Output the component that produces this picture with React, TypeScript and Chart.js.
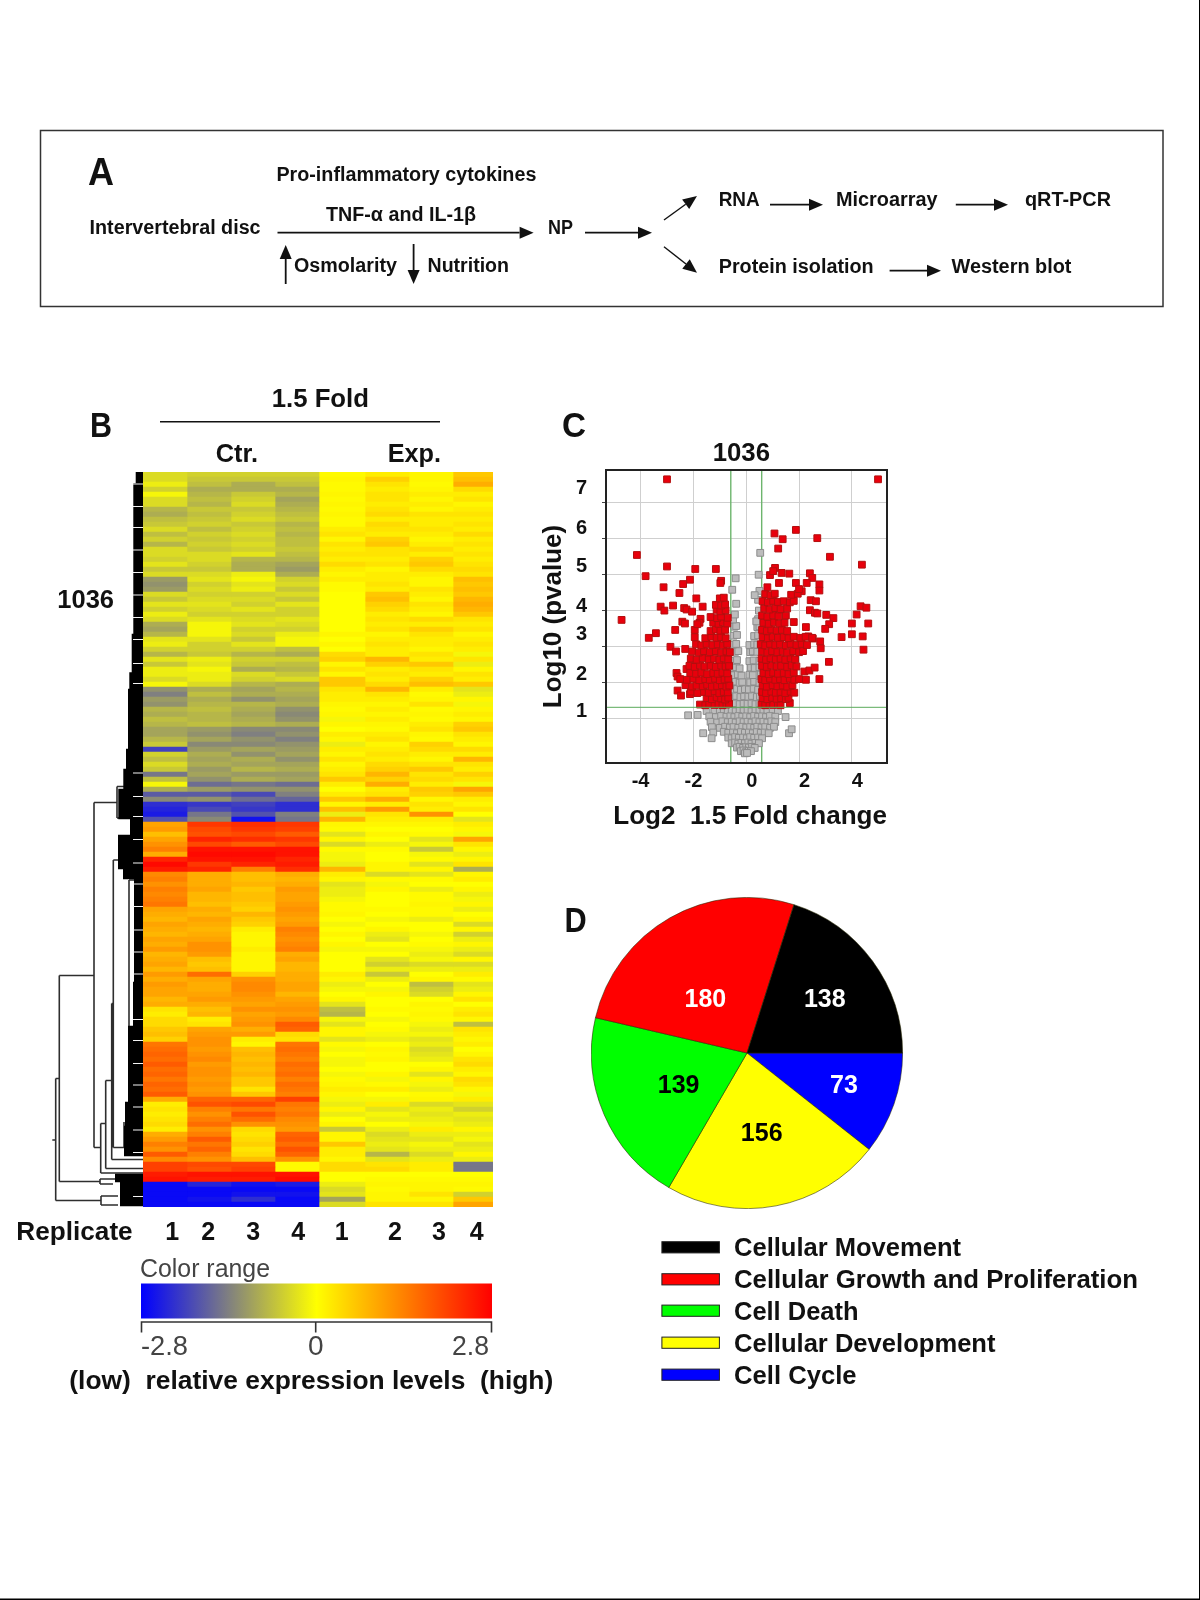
import React, { useEffect, useRef } from "react";
import { Chart, registerables } from "chart.js";
Chart.register(...registerables);

const FONT = '"Liberation Sans", Arial, sans-serif';

/* ---------- B: heat map, 147 row groups top to bottom, log-ratio values ---------- */
const replicateLabels = ["1", "2", "3", "4", "1", "2", "3", "4"];
const columnWeights = [44, 44, 44, 44, 46, 44, 44, 40];
const ctr1 = [
  -.4,-.4,-.2,-.5,-.1,-.4,-.4,-.8,-.9,-.7,-.6,-.4,
  -.7,-.5,-.8,-.4,-.4,-.5,-.3,-.6,-.4,-1.1,-1.2,-1.1,
  -.4,-.6,-.3,-.5,-.2,-.4,-.9,-1.0,-.8,-.3,-.2,-.5,
  -.8,-.3,-.6,-.2,-.2,-.4,-.1,-1.2,-1.4,-1.1,-1.2,-.8,
  -.9,-.7,-.8,-1.0,-1.0,-.8,-.6,-2.1,-.5,-.7,-.4,-.6,
  -1.5,-.7,-.1,-.9,-1.8,-1.3,-2.3,-2.4,-2.5,-1.9,1.0,1.1,
  .7,1.0,1.2,1.4,.9,2.4,2.7,2.5,1.3,1.4,1.2,1.4,
  1.3,1.4,1.5,1.0,.9,.8,1.0,.9,.8,1.0,.9,1.1,.8,
  .9,1.0,.8,1.1,.9,1.1,1.0,1.0,.8,.9,.3,.2,.4,
  .4,.6,.7,.5,1.5,1.6,1.7,1.6,1.8,1.6,1.7,1.5,
  1.7,1.6,1.8,.9,.2,.3,.2,.3,.4,.2,.9,1.1,1.4,
  1.2,1.8,1.3,2.1,2.1,2.5,2.6,-2.7,-2.7,-2.7,-2.7,-2.7,
];
const ctr2 = [
  -.5,-.6,-.7,-.9,-.8,-.7,-.8,-.6,-.7,-.6,-.5,-.7,
  -.5,-.6,-.5,-.6,-.4,-.4,-.5,-.6,-.4,-.3,-.5,-.4,
  -.5,-.4,-.3,-.4,-.5,-.3,-.1,-.1,-.1,-.3,-.5,-.5,
  -.6,-.2,-.3,-.1,-.2,-.2,-.4,-.9,-.7,-.9,-.8,-.7,
  -.8,-.8,-.7,-1.1,-1.2,-1.0,-1.3,-1.1,-.9,-1.0,-.9,-1.1,
  -1.0,-1.2,-1.6,-1.1,-1.8,-1.2,-2.2,-2.0,-1.5,-1.3,2.2,2.0,
  1.9,2.4,2.0,2.6,2.7,2.6,2.2,2.4,.9,.9,.9,1.0,
  .8,.8,.7,.9,.8,1.0,.9,.8,.9,1.0,1.2,1.2,1.1,
  .7,.6,.7,1.6,1.0,.9,.9,1.0,1.1,.9,.7,.8,.2,
  .3,1.0,1.1,1.2,1.2,1.1,1.2,1.3,1.1,1.2,1.2,1.1,
  1.2,1.1,1.2,1.7,1.9,1.4,1.2,1.4,1.6,1.2,1.4,1.8,1.5,
  1.7,1.4,1.2,2.0,1.9,2.6,2.5,-2.4,-2.7,-2.7,-2.6,-2.7,
];
const ctr3 = [
  -.5,-.6,-.9,-.9,-.6,-.5,-.4,-.6,-.5,-.4,-.6,-.5,
  -.4,-.5,-.4,-.5,-.3,-.8,-.9,-.9,-.2,-.1,-.3,-.2,
  -.5,-.4,-.5,-.3,-.5,-.4,-.3,-.5,-.4,-.6,-.3,-.5,
  -.8,-.5,-.6,-.9,-.4,-.5,-.8,-1.0,-.9,-1.2,-.8,-.9,
  -1.0,-.9,-.8,-1.3,-1.4,-1.2,-1.3,-1.0,-1.2,-.9,-1.0,-.8,
  -1.1,-.9,-1.5,-1.2,-2.0,-1.6,-2.1,-2.2,-1.9,-2.6,2.3,2.2,
  2.0,2.3,1.8,2.6,2.7,2.6,2.4,1.4,.7,.7,.8,.6,
  .7,.7,.6,.5,.8,.6,.5,.2,.1,.1,.1,.2,.1,
  .1,.1,.1,.5,1.2,1.3,1.3,1.2,1.1,1.0,1.2,1.0,1.1,
  1.2,.9,1.1,.2,.1,.7,.8,.7,.8,.7,.8,.6,
  .6,.3,.6,1.7,2.0,1.5,1.9,1.6,1.2,.4,.3,.4,.5,
  .3,.4,.7,2.0,2.1,2.6,2.5,-2.6,-2.7,-2.6,-2.3,-2.7,
];
const ctr4 = [
  -.5,-.6,-.7,-.9,-.8,-1.0,-.9,-.8,-.7,-.6,-.8,-.7,
  -.8,-.7,-.7,-.6,-.7,-.8,-1.0,-1.1,-.9,-.5,-.4,-.6,
  -.4,-.6,-.3,-.5,-.5,-.3,-.4,-.5,-.2,-.1,-.1,-.7,
  -.9,-.5,-.7,-.8,-.6,-.4,-.9,-.8,-.9,-1.0,-.9,-1.2,
  -1.3,-1.2,-.9,-1.3,-1.2,-1.4,-1.2,-1.1,-1.0,-1.2,-1.0,-.9,
  -1.1,-1.0,-1.6,-1.2,-1.4,-1.7,-2.3,-2.3,-1.4,-1.5,2.2,2.1,
  1.8,2.2,2.0,2.6,2.6,2.4,2.5,2.3,.9,.8,.9,1.1,
  1.0,1.0,1.1,1.2,1.1,1.0,1.1,1.4,1.3,1.2,1.3,1.4,.9,
  1.0,.8,.8,.9,.9,1.0,1.0,.8,1.0,1.1,1.2,1.1,1.3,
  1.8,1.7,.4,.3,1.5,1.6,1.5,1.4,1.6,1.5,1.6,1.4,
  1.6,1.5,1.4,2.1,1.5,1.4,1.5,1.3,1.2,1.1,1.7,1.8,1.6,
  1.9,1.7,1.2,.05,.05,2.6,2.7,-2.5,-2.7,-2.6,-2.7,-2.7,
];
const exp1 = [
  .05,.1,.05,.05,.1,.05,.1,.05,.1,.05,.05,.2,
  .3,.1,.3,.2,.3,.2,.4,.2,.1,.2,.05,.05,
  0,0,0,0,0,0,0,0,.1,0,.1,0,
  .4,.5,.1,.3,.1,.6,.6,.3,.2,.2,.1,.05,
  .1,-.1,.1,0,.2,.1,-.2,.2,.1,.3,.1,.2,
  .3,.6,.2,0,.2,.6,.1,.7,-.2,.8,.1,.05,
  -.3,.1,-.4,.05,-.1,-.1,-.2,.8,.2,.1,-.3,-.2,
  -.2,-.1,.05,.05,.1,0,-.1,0,.1,0,.1,-.1,0,
  0,0,0,.2,.1,-.2,-.1,0,.1,-.3,-.7,-.8,-.1,
  -.3,.1,.1,-.3,.05,-.1,0,-.1,-.1,0,-.1,.05,
  .1,.2,.1,-.1,-.2,.1,-.2,0,.1,-.6,.1,.1,.6,
  .2,.2,.1,.4,.4,0,0,-.2,-.4,-.3,-1.0,-.4,
];
const exp2 = [
  .2,.5,.3,.2,.3,.3,.2,.3,.4,.2,.4,.3,
  .2,.5,.6,.3,.3,.2,.3,.1,.2,.2,.3,.2,
  .6,.7,.5,.4,.2,.3,.2,.3,.1,.2,.3,.2,
  .2,.8,.5,.2,.3,.2,.4,.8,.3,.2,.1,.2,
  .1,.2,.1,.05,.2,.3,.1,.2,.3,.2,.4,.5,
  .8,.5,.9,.2,.3,.9,.2,1.1,.3,.2,.1,0,
  .1,0,-.2,.05,0,0,.1,.1,-.4,.05,-.1,.1,
  0,0,0,.05,0,-.1,0,.1,-.2,-.3,0,-.1,0,
  -.3,-.5,-.2,-.6,-.2,0,-.1,.1,0,0,.05,0,-.1,
  0,.05,-.1,-.2,0,.1,.05,.1,0,0,.1,-.1,
  .05,.2,0,-.1,.2,-.3,-.1,-.2,0,-.2,-.4,-.3,-.2,
  -.3,-.8,-.3,.3,.4,0,.05,.1,.05,.1,.1,.3,
];
const exp3 = [
  .1,.1,.05,.1,.2,.1,.2,.1,.3,.2,.2,.3,
  .2,.1,.2,.4,.2,.5,.6,.4,.2,.1,.1,.3,
  .2,.1,.3,.2,.1,.4,.2,.5,.3,.2,.2,.1,
  .3,.2,.6,.3,.2,.5,.7,.2,.05,.1,.3,.05,
  .1,.05,.2,.3,.1,.05,.5,.4,.2,.1,.3,.6,
  .3,.4,.2,.6,.5,.1,.3,.2,1.2,.2,.1,0,
  .05,-.3,-.1,-.6,-.1,.05,-.3,.1,-.3,.05,0,-.2,
  .05,.05,.1,.05,.05,-.2,0,0,-.1,0,.05,-.1,-.2,
  -.1,-.4,-.2,0,.1,-.7,-.5,-.4,0,.1,.05,.1,.05,
  -.1,-.2,-.1,-.3,-.2,-.4,-.3,-.2,0,.1,-.3,.1,
  -.1,-.2,.05,.1,-.4,-.2,-.3,-.2,-.1,.2,-.2,-.3,-.1,
  -.2,-.4,-.2,.2,.2,0,.05,.1,.1,.3,.1,.3,
];
const exp4 = [
  .6,.7,.9,.4,.2,.3,.1,.2,.3,.2,.3,.2,
  .4,.2,.3,.2,.3,.2,.3,.4,.3,.7,.6,.7,
  .6,.8,.9,.8,.6,.3,.2,.3,.1,.2,.3,.2,
  -.1,.3,-.2,.1,.3,.2,.6,-.3,-.2,.1,-.1,.1,
  .2,.1,.5,.6,.3,.2,.1,.4,.2,.8,.3,.2,
  .5,.3,-.1,1.0,.6,.2,.1,.3,0,-.3,.2,.1,
  -.1,1.0,.3,.1,-.2,.1,.3,-.9,.1,.2,0,.1,
  -.2,-.1,.1,-.2,0,.1,-.4,.1,-.5,-.2,.1,-.2,-.4,
  .1,-.4,-.2,.2,.05,-.3,-.2,.1,.3,0,.2,.3,.1,
  -.7,.3,.2,.1,.2,0,.1,.3,.4,.2,.1,.4,
  .3,.1,-.1,.2,-.3,-.5,-.2,-.3,-.2,.1,-.2,-.1,-.3,
  -.2,.1,-.2,-1.5,-1.5,0,.05,.1,.05,-.5,.6,1.0,
];
const heatColumns = [ctr1, ctr2, ctr3, ctr4, exp1, exp2, exp3, exp4];

/* dendrogram: [distance, row, distance, row] */
const treeSegments = [
  [90.7,133.6,87.3,133.6],[87.3,121.3,87.3,145.7],[87.3,121.3,83.7,121.3],[87.3,145.7,42,145.7],
  [83.7,100.7,83.7,141.9],[83.7,100.7,49,100.7],[83.7,141.9,43,141.9],
  [49,66.1,49,135.1],[49,66.1,26,66.1],[49,135.1,42.3,135.1],
  [42.3,130.3,42.3,140.2],[42.3,130.3,37.3,130.3],[42.3,140.2,0,140.2],
  [37.3,121.7,37.3,139.3],[37.3,121.7,31.3,121.7],[37.3,139.3,0,139.3],
  [31.3,106.3,31.3,137.5],[31.3,106.3,29.7,106.3],[31.3,137.5,0,137.5],
  [29.7,77.6,29.7,135.1],[29.7,77.6,24,77.6],[29.7,135.1,19,135.1],
  [14,81.6,14,110.9],[14,81.6,8,81.6],
  [26,62.9,26,69.2],[26,62.9,18,62.9],[26,69.2,18,69.2],
  [43,141.4,43,142.4],[43,141.4,28,141.4],[43,142.4,30,142.4],
  [42,144.8,42,146.6],[42,144.8,25,144.8],[42,146.6,25,146.6],
  [19,130,19,135.1],
];
/* dense leaf bands: [row from, row to, depth] */
const leafBands = [
  [0,2.5,7.3],[2.5,32.6,9.7],[32.6,40.3,11.3],[40.3,43.6,13.7],[43.6,55.6,15],[55.6,59.6,17],
  [59.6,63.6,19.7],[63.6,69.6,24.7],[69.6,72.8,13],[72.8,79.6,25],[79.6,81.6,20],[81.6,102.2,9],
  [102.2,111,10],[111,126.2,15],[126.2,131,18],[131,137,19],[140.6,142.2,28],[142.2,147,23],
];
const leafGaps = [2.4,6.9,11.1,15.6,20.1,24.6,29.1,33.5,38.3,42.3,60.2,64.9,68.9,73.5,78.2,82.4,86.9,91.6,96,100.4,109.5,113.7,118.3,122.6,127,131.6,136.1,144.9];

/* ---------- C: volcano plot [log2 fold change, -log10 p] ---------- */
const xTickValues = [-4, -2, 0, 2, 4];
const yTickValues = [1, 2, 3, 4, 5, 6, 7];
const yLabelLift = [6.7, 8, 11.7, 4, 8, 10.7, 14.7];
const foldThreshold = 0.585;
const pThreshold = 1.3;
const redLeftSparse = [[-3,7.66],[-4.14,5.55],[-3.81,4.96],[-3,5.23],[-3.13,4.65],[-1.93,5.16],[-1.15,5.16],[-2.13,4.86],[-2.39,4.74],[-2.53,4.49],[-.95,4.83],[-.98,4.77],[-3.24,4.11],[-3.1,4],[-2.77,4.14],[-2.35,4.07],[-2.26,4.03],[-2.05,3.97],[-1.89,4.34],[-1.65,4.11],[-4.72,3.74],[-3.69,3.24],[-3.42,3.37],[-2.69,3.46],[-2.42,3.69],[-2.32,3.64],[-1.73,3.77],[-1.77,3.66],[-2.87,2.99],[-2.66,2.86],[-2.31,2.93],[-2.64,2.26],[-2.6,2.16],[-2.26,2.37],[-2.6,1.77],[-2.47,1.63],[-2.13,1.67]];
const redRightSparse = [[4.99,7.66],[1.07,6.15],[1.38,5.99],[1.88,6.25],[2.69,6.02],[1.21,5.73],[3.17,5.5],[4.38,5.28],[1.09,5.19],[.9,4.99],[1.02,5.1],[1.34,5.05],[1.63,5.03],[2.41,5.04],[2.5,4.91],[2.29,4.77],[1.88,4.77],[2.77,4.73],[2.77,4.56],[2.1,4.54],[1.24,4.77],[2.44,4.29],[2.64,4.26],[2.41,4.01],[2.6,3.94],[2.69,3.92],[3.03,3.88],[3.3,3.79],[3.14,3.62],[2.99,3.49],[3.61,3.26],[4,3.64],[4.18,3.89],[4.33,4.12],[4.55,4.08],[4.62,3.64],[4,3.34],[4.41,3.28],[4.44,2.91],[3.13,2.57],[2.77,2.09],[2.26,2.07],[2.2,2.3],[2.39,2.33],[2.59,2.41],[1.65,1.42],[2.26,3.54],[2.8,3.14],[2.82,2.95],[2.35,3.28],[2.52,3.22]];
const redLeftDense = [
  [-1.75,1.38],[-1.55,1.36],[-1.4,1.4],[-1.2,1.37],[-1.05,1.39],[-.9,1.36],[-.75,1.38],[-.65,1.4],
  [-1.5,1.56],[-1.3,1.53],[-1.12,1.58],[-.95,1.55],[-.8,1.52],[-.68,1.57],
  [-2.1,1.74],[-1.85,1.7],[-1.6,1.73],[-1.42,1.71],[-1.2,1.75],[-1.02,1.7],[-.85,1.73],[-.7,1.72],
  [-2.3,1.92],[-2.05,1.88],[-1.88,1.91],[-1.65,1.89],[-1.48,1.93],[-1.3,1.88],[-1.1,1.9],[-.92,1.92],[-.75,1.88],[-.64,1.91],
  [-2.5,2.09],[-2.25,2.07],[-2,2.1],[-1.78,2.06],[-1.55,2.09],[-1.38,2.07],[-1.18,2.1],[-1,2.06],[-.82,2.08],[-.68,2.1],
  [-2.12,2.26],[-1.9,2.24],[-1.7,2.27],[-1.48,2.23],[-1.25,2.26],[-1.08,2.24],[-.9,2.27],[-.72,2.25],
  [-2.15,2.46],[-1.95,2.43],[-1.75,2.47],[-1.58,2.44],[-1.35,2.46],[-1.15,2.43],[-.95,2.47],[-.78,2.44],[-.65,2.46],
  [-2.1,2.66],[-1.88,2.63],[-1.65,2.67],[-1.42,2.64],[-1.22,2.66],[-1.02,2.63],[-.85,2.67],[-.68,2.64],
  [-2.05,2.86],[-1.8,2.83],[-1.6,2.87],[-1.38,2.84],[-1.15,2.87],[-.95,2.83],[-.75,2.86],[-.62,2.84],
  [-1.9,3.06],[-1.7,3.03],[-1.5,3.07],[-1.28,3.04],[-1.08,3.06],[-.88,3.03],[-.72,3.07],
  [-1.95,3.26],[-1.55,3.23],[-1.32,3.27],[-1.12,3.24],[-.95,3.26],[-.78,3.23],
  [-1.95,3.46],[-1.35,3.43],[-1.15,3.47],[-.98,3.44],[-.8,3.46],
  [-1.85,3.62],[-1.25,3.66],[-1.05,3.63],[-.88,3.67],[-.72,3.64],
  [-1.35,3.82],[-1.1,3.79],[-.95,3.83],[-.7,3.8],
  [-1.12,4.02],[-.98,3.98],[-.78,4.01],[-1.15,4.16],[-.95,4.14],[-.8,4.17],[-1,4.34],[-.85,4.36],
];
const redRightDense = [
  [.58,1.38],[.72,1.36],[.88,1.4],[1.02,1.37],[1.2,1.39],[1.3,1.36],
  [.62,1.56],[.8,1.53],[.98,1.57],[1.15,1.54],[1.32,1.56],[1.5,1.53],[1.6,1.57],
  [.6,1.73],[.75,1.7],[.95,1.74],[1.12,1.71],[1.3,1.73],[1.48,1.7],[1.68,1.74],[1.82,1.71],
  [.62,1.91],[.78,1.88],[1,1.92],[1.18,1.89],[1.38,1.91],[1.55,1.88],[1.75,1.92],
  [.58,2.09],[.72,2.06],[.9,2.1],[1.1,2.07],[1.28,2.09],[1.45,2.06],[1.65,2.1],[1.82,2.07],[2,2.09],
  [.65,2.26],[.85,2.23],[1.02,2.27],[1.2,2.24],[1.42,2.26],[1.6,2.23],[1.8,2.27],
  [.6,2.46],[.78,2.43],[.95,2.47],[1.15,2.44],[1.32,2.46],[1.55,2.43],[1.72,2.47],[1.9,2.44],
  [.58,2.66],[.75,2.63],[.92,2.67],[1.12,2.64],[1.3,2.66],[1.48,2.63],[1.68,2.67],[1.85,2.64],
  [.6,2.86],[.8,2.83],[.98,2.87],[1.18,2.84],[1.38,2.86],[1.55,2.83],[1.78,2.87],[2,2.84],[2.15,2.87],
  [.55,3.06],[.72,3.03],[.9,3.07],[1.1,3.04],[1.28,3.06],[1.5,3.03],[1.68,3.07],[1.9,3.04],[2.1,3.07],[2.3,3.04],
  [.62,3.26],[.82,3.23],[1,3.27],[1.2,3.24],[1.42,3.26],[1.6,3.23],[1.8,3.27],[2.05,3.24],[2.25,3.27],[2.5,3.24],
  [.6,3.46],[.78,3.43],[.95,3.47],[1.15,3.44],[1.35,3.46],[1.55,3.43],
  [.65,3.66],[.85,3.63],[1.05,3.67],[1.25,3.64],[1.45,3.66],[1.8,3.68],
  [.6,3.86],[.8,3.83],[1.02,3.87],[1.22,3.84],[1.5,3.86],
  [.68,4.06],[.88,4.03],[1.1,4.07],[1.3,4.04],[1.55,4.06],
  [.62,4.26],[.82,4.23],[1.02,4.27],[1.2,4.24],[1.42,4.26],[1.65,4.23],[1.8,4.27],
  [.72,4.46],[.92,4.43],[1.08,4.47],[1.7,4.44],[1.95,4.47],[2,4.6],[.8,4.65],
];
const grayLow = [
  [-1.5,1.2],[-1.2,1.22],[-1,1.19],[-.85,1.21],[-.7,1.2],[-.55,1.22],[-.4,1.19],[-.25,1.21],[-.1,1.2],[.05,1.22],[.2,1.19],[.35,1.21],[.5,1.2],[.65,1.22],[.8,1.19],[1,1.21],[1.2,1.2],
  [-2.2,1.08],[-1.84,1.09],[-1.4,1.05],[-1.15,1.03],[-.95,1.06],[-.75,1.04],[-.6,1.05],[-.45,1.03],[-.3,1.06],[-.15,1.04],[0,1.05],[.15,1.03],[.3,1.06],[.45,1.04],[.6,1.05],[.75,1.03],[.9,1.06],[1.1,1.04],[1.49,1.03],
  [-1.35,.9],[-1.1,.88],[-.9,.91],[-.7,.89],[-.55,.9],[-.4,.88],[-.25,.91],[-.1,.89],[.05,.9],[.2,.88],[.35,.91],[.5,.89],[.65,.9],[.8,.88],[.95,.91],[1.1,.89],
  [-1.3,.75],[-1,.73],[-.8,.76],[-.62,.74],[-.48,.75],[-.3,.73],[-.15,.76],[0,.74],[.15,.75],[.3,.73],[.42,.76],[.58,.74],[.72,.75],[.9,.73],[1.05,.76],
  [-1.63,.58],[-1.25,.6],[-.85,.62],[-.68,.59],[-.5,.6],[-.35,.58],[-.2,.61],[-.05,.59],[.1,.6],[.25,.58],[.4,.61],[.55,.59],[.7,.6],[.85,.58],[1.62,.58],[1.72,.69],
  [-1.31,.44],[-.68,.46],[-.55,.44],[-.42,.47],[-.28,.45],[-.12,.46],[.02,.44],[.15,.47],[.3,.45],[.45,.46],[.6,.44],
  [-.55,.3],[-.42,.32],[-.3,.29],[-.18,.31],[-.05,.3],[.08,.32],[.2,.29],[.35,.31],[.48,.3],
  [-.35,.18],[-.25,.2],[-.12,.17],[0,.19],[.1,.18],[.22,.2],[.32,.17],
  [-.2,.08],[-.1,.1],[0,.07],[.1,.09],[.18,.08],[-.05,.02],[.03,.03],
];
const grayHigh = [
  [-.55,1.4],[-.4,1.42],[-.25,1.39],[-.1,1.41],[.05,1.4],[.2,1.42],[.35,1.39],[.5,1.41],
  [-.52,1.6],[-.38,1.62],[-.22,1.59],[-.08,1.61],[.08,1.6],[.22,1.62],[.4,1.59],[.52,1.61],
  [-.5,1.8],[-.35,1.82],[-.2,1.79],[-.05,1.81],[.1,1.8],[.28,1.82],[.45,1.79],
  [-.55,2],[-.4,2.02],[-.25,1.99],[-.15,2.01],[.15,2],[.3,2.02],[.5,1.99],
  [-.48,2.2],[-.32,2.22],[-.18,2.19],[.12,2.21],[.25,2.2],[.55,2.22],
  [-.55,2.4],[-.38,2.42],[-.25,2.39],[.18,2.41],[.32,2.4],[.5,2.42],
  [-.5,2.6],[-.35,2.62],[.12,2.59],[.28,2.61],[.5,2.6],
  [-.42,2.85],[-.3,2.87],[.15,2.84],[.25,2.86],[.42,2.85],
  [-.5,3.05],[-.38,3.07],[.12,3.04],[.3,3.06],[.42,3.05],
  [-.48,3.3],[-.35,3.32],[.3,3.29],[.45,3.31],
  [-.45,3.55],[-.38,3.57],[.42,3.54],[.5,3.56],
  [-.5,3.75],[.45,3.76],[.38,3.7],[.48,4],[.45,4.3],[.5,4.55],
  [.53,5.61],[.47,5],[-.4,4.9],[-.53,4.58],[.32,4.43],[-.38,4.19],[-.43,3.89],
];

/* ---------- D: pie, clockwise from 3 o'clock ---------- */
const pieCategories = ["Cell Cycle", "Cellular Development", "Cell Death", "Cellular Growth and Proliferation", "Cellular Movement"];
const pieValues = [73, 156, 139, 180, 138];
const pieColors = ["#0000ff", "#ffff00", "#00ff00", "#ff0000", "#000000"];

/* ---------- helpers ---------- */
function heatColor(v: number) {
  const t = Math.min(Math.abs(v) / 2.8, 1);
  if (v >= 0) return `rgb(255,${Math.round(255 * (1 - t))},0)`;
  const c = Math.round(255 * (1 - t));
  return `rgb(${c},${c},${Math.round(255 * t)})`;
}
const toPts = (a: number[][]) => a.map(([x, y]) => ({ x, y }));

function heatConfig(): any {
  const rows = ctr1.map((_, i) => String(i + 1));
  return {
    type: "bar",
    data: {
      labels: rows,
      datasets: heatColumns.map((col, c) => ({
        label: `${c < 4 ? "Ctr." : "Exp."} ${replicateLabels[c]}`,
        data: rows.map(() => columnWeights[c]),
        backgroundColor: rows.map((_, r) => heatColor(col[r] ?? 0)),
        borderWidth: 0,
        barPercentage: 1,
        categoryPercentage: 1,
      })),
    },
    options: {
      indexAxis: "y",
      responsive: false,
      animation: false,
      devicePixelRatio: 1,
      layout: { padding: 0 },
      plugins: { legend: { display: false }, tooltip: { enabled: false } },
      scales: {
        x: { stacked: true, display: false, min: 0, max: columnWeights.reduce((a, b) => a + b, 0) },
        y: { stacked: true, display: false },
      },
    },
  };
}

function treeConfig(): any {
  const gap = { x: NaN, y: NaN };
  const tree: any[] = [];
  treeSegments.forEach(([a, b, c, d]) => tree.push({ x: a, y: b }, { x: c, y: d }, gap));
  const mass: any[] = [];
  leafBands.forEach(([r0, r1, depth]) => {
    for (let r = r0; r < r1; r += 0.4) mass.push({ x: 0, y: r }, { x: depth, y: r }, gap);
  });
  const ticks: any[] = [];
  leafGaps.forEach((r) => ticks.push({ x: 0, y: r }, { x: 10, y: r }, gap));
  const line = (data: any[], color: string, width: number, order: number) => ({
    type: "scatter", data, showLine: true, pointRadius: 0, borderColor: color, borderWidth: width,
    borderCapStyle: "butt", spanGaps: false, order,
  });
  return {
    type: "scatter",
    data: { datasets: [line(ticks, "#f4f4f4", 1.2, 0), line(mass, "#000000", 2.6, 1), line(tree, "#2e2e2e", 1.6, 2)] },
    options: {
      responsive: false,
      animation: false,
      devicePixelRatio: 1,
      layout: { padding: 0 },
      plugins: { legend: { display: false }, tooltip: { enabled: false } },
      scales: {
        x: { type: "linear", display: false, min: 0, max: 103, reverse: true },
        y: { type: "linear", display: false, min: 0, max: 147, reverse: true },
      },
    },
  };
}

const frame = {
  id: "frame",
  afterDraw(chart: any) {
    const { ctx, chartArea: a } = chart;
    ctx.save();
    ctx.strokeStyle = "#222";
    ctx.lineWidth = 2;
    ctx.strokeRect(a.left, a.top, a.right - a.left, a.bottom - a.top);
    ctx.restore();
  },
};

function volcanoConfig(): any {
  const sq = (data: any[], fill: string, edge: string, order: number, label: string) => ({
    label, data, pointStyle: "rect", pointRadius: 4.8, pointBackgroundColor: fill,
    pointBorderColor: edge, pointBorderWidth: 1, order, showLine: false,
  });
  const rule = (data: any[], order: number, color: string) => ({
    data, showLine: true, pointRadius: 0, borderColor: color, borderWidth: 1.4, order,
  });
  const xMin = -5.31, xMax = 5.33, yMin = -0.25, yMax = 7.92;
  const noPad = (s: any) => { s.paddingTop = 0; s.paddingBottom = 0; s.paddingLeft = 0; s.paddingRight = 0; };
  return {
    type: "scatter",
    data: {
      datasets: [
        rule([{ x: xMin, y: pThreshold }, { x: xMax, y: pThreshold }], 0, "rgba(90,170,90,0.8)"),
        sq(toPts([...redLeftSparse, ...redRightSparse, ...redLeftDense, ...redRightDense]), "#e8000c", "#b30f0f", 1, "Significant"),
        sq(toPts([...grayLow, ...grayHigh]), "#bcbcbc", "#8c8c8c", 2, "Not significant"),
        rule([{ x: -foldThreshold, y: yMin }, { x: -foldThreshold, y: yMax }], 3, "#6db56d"),
        rule([{ x: foldThreshold, y: yMin }, { x: foldThreshold, y: yMax }], 3, "#6db56d"),
      ],
    },
    options: {
      responsive: false,
      animation: false,
      devicePixelRatio: 1,
      layout: { padding: { top: 30, right: 13, bottom: 0, left: 0 } },
      plugins: { legend: { display: false }, tooltip: { enabled: false } },
      scales: {
        x: {
          type: "linear", min: xMin, max: xMax,
          afterBuildTicks: (s: any) => { s.ticks = xTickValues.map((value) => ({ value })); },
          afterFit: (s: any) => { s.height = 77; noPad(s); },
          grid: { color: "#cfcfcf", lineWidth: 1, drawTicks: false },
          border: { display: false },
          ticks: {
            autoSkip: false, maxRotation: 0, padding: 6, color: "#111",
            font: { family: FONT, size: 20, weight: "bold" },
            callback: (v: number) => (v >= 0 ? `  ${v}` : `${v}`),
          },
          title: {
            display: true, text: " Log2  1.5 Fold change", color: "#111",
            font: { family: FONT, size: 26.5, weight: "bold" }, padding: { top: 0, bottom: 7 },
          },
        },
        y: {
          type: "linear", min: yMin, max: yMax,
          afterBuildTicks: (s: any) => { s.ticks = yTickValues.map((value) => ({ value })); },
          afterFit: (s: any) => { s.width = 76; noPad(s); },
          grid: { color: "#cfcfcf", lineWidth: 1, tickLength: 4, tickColor: "#444" },
          border: { display: false },
          ticks: {
            autoSkip: false, padding: 15, color: "#111",
            font: (c: any) => ({
              family: FONT, size: 20, weight: "bold",
              lineHeight: (2 * (yLabelLift[yTickValues.indexOf(c.tick?.value)] ?? 8)) / 20,
            }),
            callback: (v: number) => [String(v), ""],
          },
          title: {
            display: true, text: "Log10 (pvalue)", color: "#111",
            font: { family: FONT, size: 26, weight: "bold" }, padding: { top: 8, bottom: 0 },
          },
        },
      },
    },
    plugins: [frame],
  };
}

function pieConfig(): any {
  return {
    type: "pie",
    data: {
      labels: pieCategories,
      datasets: [{ data: pieValues, backgroundColor: pieColors, borderColor: "rgba(40,40,0,0.7)", borderWidth: 0.8 }],
    },
    options: {
      responsive: false,
      animation: false,
      devicePixelRatio: 1,
      rotation: 90,
      layout: { padding: 0 },
      plugins: { legend: { display: false }, tooltip: { enabled: false } },
    },
  };
}

function Panel({ make, left, top, width, height }: any) {
  const ref = useRef<HTMLCanvasElement>(null);
  useEffect(() => {
    const chart = new Chart(ref.current as HTMLCanvasElement, make());
    return () => chart.destroy();
  }, []);
  return <canvas ref={ref} width={width} height={height} style={{ position: "absolute", left, top, width, height, display: "block" }} />;
}

/* ---------- overlay text and arrows ---------- */
function T({ x, yc, s, size = 24, w, anchor = "start", fill = "#111", weight = "bold" }: any) {
  return (
    <text x={x} y={yc + size * 0.36} fontSize={size} fontWeight={weight} fill={fill} textAnchor={anchor}
      fontFamily={FONT} style={{ whiteSpace: "pre" }}
      {...(w ? { textLength: w, lengthAdjust: "spacingAndGlyphs" } : {})}>
      {s}
    </text>
  );
}
function Arrow({ x1, y1, x2, y2, len = 14, half = 6, width = 1.8 }: any) {
  const a = Math.atan2(y2 - y1, x2 - x1);
  const bx = x2 - len * Math.cos(a), by = y2 - len * Math.sin(a);
  const nx = -Math.sin(a) * half, ny = Math.cos(a) * half;
  return (
    <g>
      <line x1={x1} y1={y1} x2={bx} y2={by} stroke="#111" strokeWidth={width} />
      <polygon points={`${x2},${y2} ${bx + nx},${by + ny} ${bx - nx},${by - ny}`} fill="#111" />
    </g>
  );
}

const replicateX = [172.3, 208.3, 253.3, 298.3, 341.7, 395, 439, 476.7];
const legendOrder = [4, 3, 2, 1, 0];
const legendY = [1247.3, 1279.3, 1310.7, 1342.7, 1374.7];
const legendW = [227, 404, 124.5, 261.5, 122.6];
const pieLabelPos = [[844, 1084], [761.7, 1131.7], [678.6, 1084], [705.4, 998.3], [824.8, 998.3]];
const pieLabelColor = ["#fff", "#000", "#000", "#fff", "#fff"];

export default function App() {
  const stops = [-2.8, -2.1, -1.4, -0.7, 0, 0.7, 1.4, 2.1, 2.8];
  return (
    <div style={{ position: "absolute", left: 0, top: 0, width: 1200, height: 1600, background: "#fff", overflow: "hidden" }}>
      <Panel make={heatConfig} left={143} top={472} width={350} height={735} />
      <Panel make={treeConfig} left={40} top={472} width={103} height={735} />
      <Panel make={volcanoConfig} left={530} top={440} width={370} height={400} />
      <Panel make={pieConfig} left={591} top={897} width={312} height={312} />
      <svg width={1200} height={1600} style={{ position: "absolute", left: 0, top: 0, pointerEvents: "none" }}>
        <defs>
          <linearGradient id="heatRamp">
            {stops.map((v, i) => (
              <stop key={i} offset={`${(i / (stops.length - 1)) * 100}%`} stopColor={heatColor(v)} />
            ))}
          </linearGradient>
        </defs>
        <rect x={1199} y={0} width={1} height={1600} fill="#000" />
        <rect x={0} y={1598.5} width={1200} height={1.5} fill="#000" />

        {/* A */}
        <rect x={40.5} y={130.5} width={1122.5} height={176} fill="none" stroke="#333" strokeWidth={1.5} />
        <T x={88} yc={171} s="A" size={38} w={26} />
        <T x={276.4} yc={174} s="Pro-inflammatory cytokines" size={20} w={260} />
        <T x={326} yc={214} s="TNF-α and IL-1β" size={20} w={150} />
        <T x={89.6} yc={226.7} s="Intervertebral disc" size={20} w={171} />
        <T x={548} yc={226.7} s="NP" size={20} w={25} />
        <T x={294} yc={265} s="Osmolarity" size={20} w={103} />
        <T x={427.5} yc={265} s="Nutrition" size={20} w={81.5} />
        <T x={718.7} yc={199} s="RNA" size={20} w={41} />
        <T x={836} yc={199} s="Microarray" size={20} w={101.6} />
        <T x={1025} yc={199} s="qRT-PCR" size={20} w={86} />
        <T x={718.7} yc={265.7} s="Protein isolation" size={20} w={155} />
        <T x={951.5} yc={265.7} s="Western blot" size={20} w={120} />
        <Arrow x1={277.5} y1={232.7} x2={533.6} y2={232.7} />
        <Arrow x1={285.7} y1={284} x2={285.7} y2={245} />
        <Arrow x1={413.6} y1={244} x2={413.6} y2={284} />
        <Arrow x1={585} y1={232.7} x2={652} y2={232.7} />
        <Arrow x1={664} y1={220} x2={697} y2={196} width={1.4} />
        <Arrow x1={664} y1={246.7} x2={697} y2={272.7} width={1.4} />
        <Arrow x1={770} y1={204.7} x2={823} y2={204.7} />
        <Arrow x1={955.8} y1={204.7} x2={1008} y2={204.7} />
        <Arrow x1={889.6} y1={270.7} x2={941} y2={270.7} />

        {/* B */}
        <T x={90} yc={424.7} s="B" size={35} w={22} />
        <T x={271.7} yc={398} s="1.5 Fold" size={26} w={97.3} />
        <line x1={160} y1={421.7} x2={440} y2={421.7} stroke="#111" strokeWidth={1.5} />
        <T x={215.7} yc={453} s="Ctr." size={25} w={42.3} />
        <T x={387.7} yc={453} s="Exp." size={25} w={53.3} />
        <T x={57.3} yc={599} s="1036" size={25} w={56.7} />
        <T x={16.3} yc={1230.9} s="Replicate" size={25} w={116.4} />
        {replicateLabels.map((s, i) => (
          <T key={i} x={replicateX[i]} yc={1230.9} s={s} size={25} anchor="middle" />
        ))}
        <T x={140} yc={1268} s="Color range" size={25} w={130} weight="normal" fill="#444" />
        <rect x={141} y={1283.5} width={351} height={35} fill="url(#heatRamp)" />
        <path d="M141.5 1332.5 V1322 H491.5 V1332.5 M315.7 1322 V1332.5" fill="none" stroke="#333" strokeWidth={1.6} />
        <T x={141} yc={1344.5} s="-2.8" size={28} w={47} weight="normal" fill="#444" />
        <T x={315.7} yc={1344.5} s="0" size={28} anchor="middle" weight="normal" fill="#444" />
        <T x={452} yc={1344.5} s="2.8" size={28} w={37} weight="normal" fill="#444" />
        <T x={69.3} yc={1380} s="(low)  relative expression levels  (high)" size={25} w={484} />

        {/* C */}
        <T x={562} yc={424} s="C" size={35} w={24} />
        <T x={712.7} yc={451.7} s="1036" size={25} w={57.3} />

        {/* D */}
        <T x={564.6} yc={919} s="D" size={35} w={22.2} />
        {pieValues.map((v, i) => (
          <T key={i} x={pieLabelPos[i][0]} yc={pieLabelPos[i][1]} s={String(v)} size={25} anchor="middle" fill={pieLabelColor[i]} />
        ))}
        {legendOrder.map((k, i) => (
          <g key={k}>
            <rect x={661.9} y={legendY[i] - 5.6} width={57.5} height={11.2} fill={pieColors[k]} stroke="#222" strokeWidth={1} />
            <T x={734} yc={legendY[i]} s={pieCategories[k]} size={25} w={legendW[i]} />
          </g>
        ))}
      </svg>
    </div>
  );
}
